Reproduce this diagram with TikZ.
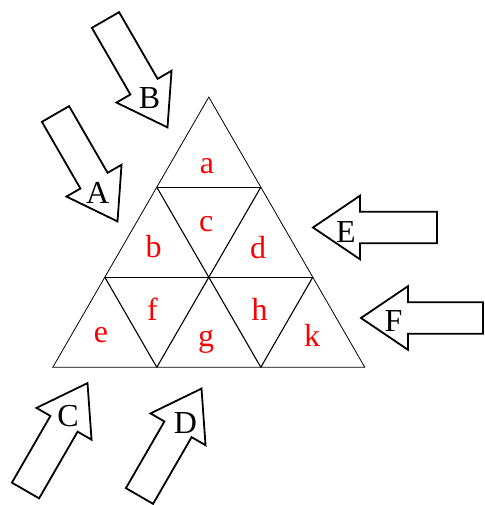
\documentclass[tikz,border=0pt]{standalone}
\usepackage{fontspec}
\setmainfont{Liberation Serif}
\usetikzlibrary{calc}

\tikzset{
  arrowline/.style={line width=1.8pt,line join=miter},
  letter/.style={inner sep=0pt,font=\fontsize{32}{38}\selectfont},
  piece/.style={letter,text=red,anchor=base}
}
% block arrow: tail point, angle, length
\newcommand{\blockarrow}[3]{%
  \draw[arrowline,shift={(#1)},rotate=#2] (0,-15.7) -- (#3-47,-15.7) -- (#3-47,-31.8)
    -- (#3,0) -- (#3-47,31.8) -- (#3-47,15.7) -- (0,15.7) -- cycle;}

\begin{document}
\begin{tikzpicture}[x=1pt,y=1pt]
  \useasboundingbox (0,0) rectangle (484,505);
  \coordinate (L) at (52.8,137.7); \coordinate (R) at (364.8,137.7);
  \coordinate (T) at (208.8,407.9);
  \coordinate (b1) at (156.8,137.7); \coordinate (b2) at (260.8,137.7);
  \coordinate (m1) at (104.8,227.8); \coordinate (m2) at (208.8,227.8);
  \coordinate (m3) at (312.8,227.8);
  \coordinate (u1) at (156.8,317.8); \coordinate (u2) at (260.8,317.8);
  \draw[line width=0.8pt] (L) -- (R) -- (T) -- cycle;
  \draw[line width=1.1pt] (m1) -- (m3) (u1) -- (u2);
  \draw[line width=1.1pt] (b1) -- (u2) (b2) -- (m3);
  \draw[line width=1.1pt] (b2) -- (u1) (b1) -- (m1);

  \node[piece] (a) at (207,331) {a};
  \node[piece] (c) at (206.3,273.3) {c};
  \node[piece] (b) at (153.7,247.7) {b};
  \node[piece] (d) at (258,246) {d};
  \node[piece] (e) at (101,162.7) {e};
  \node[piece] (f) at (152.5,184.3) {f};
  \node[piece] (g) at (206,158.5) {g};
  \node[piece] (h) at (259.7,184.3) {h};
  \node[piece] (k) at (312,158.3) {k};

  \blockarrow{55.5,391}{-60}{124}
  \blockarrow{105.5,485}{-60}{124}
  \blockarrow{25.5,14.5}{60}{124}
  \blockarrow{139.5,9}{60}{124}
  \blockarrow{437,277.5}{180}{124}
  \blockarrow{483,187}{180}{122}
  \node[letter] (A) at (97.7,312.5) {A};
  \node[letter] (B) at (149.5,406.5) {B};
  \node[letter] (C) at (68,89) {C};
  \node[letter] (D) at (185.5,81.5) {D};
  \node[letter] (E) at (346,273) {E};
  \node[letter] (F) at (393.5,184) {F};
\end{tikzpicture}
\end{document}
